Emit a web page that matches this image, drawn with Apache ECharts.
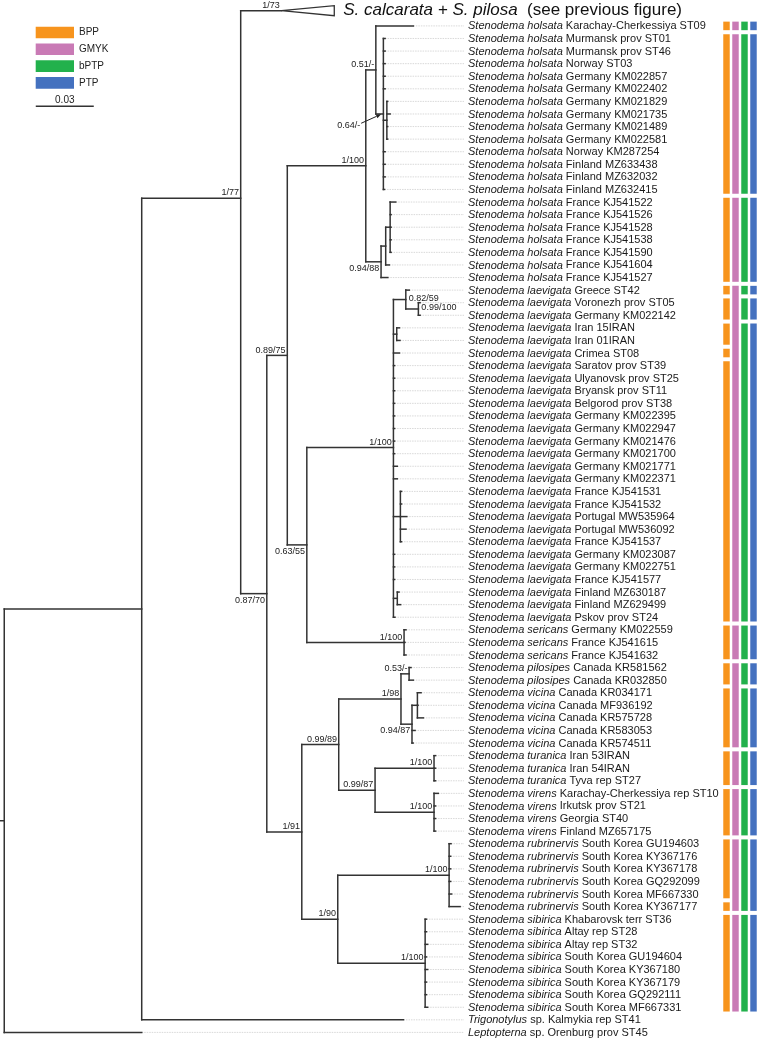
<!DOCTYPE html>
<html><head><meta charset="utf-8">
<script src="https://cdn.jsdelivr.net/npm/echarts@6/dist/echarts.min.js"></script>
<style>html,body{margin:0;padding:0;background:#fff}#c{width:758px;height:1045px}</style>
</head><body><div id="c"></div>
<script>
// ================= DATA =================
// Leaf rows (top to bottom): italic taxon part and plain locality part
const leafTaxon = [
 'Stenodema holsata','Stenodema holsata','Stenodema holsata','Stenodema holsata','Stenodema holsata','Stenodema holsata','Stenodema holsata','Stenodema holsata','Stenodema holsata','Stenodema holsata','Stenodema holsata','Stenodema holsata','Stenodema holsata','Stenodema holsata',
 'Stenodema holsata','Stenodema holsata','Stenodema holsata','Stenodema holsata','Stenodema holsata','Stenodema holsata','Stenodema holsata',
 'Stenodema laevigata','Stenodema laevigata','Stenodema laevigata','Stenodema laevigata','Stenodema laevigata','Stenodema laevigata','Stenodema laevigata','Stenodema laevigata','Stenodema laevigata','Stenodema laevigata',
 'Stenodema laevigata','Stenodema laevigata','Stenodema laevigata','Stenodema laevigata','Stenodema laevigata','Stenodema laevigata','Stenodema laevigata','Stenodema laevigata','Stenodema laevigata','Stenodema laevigata',
 'Stenodema laevigata','Stenodema laevigata','Stenodema laevigata','Stenodema laevigata','Stenodema laevigata','Stenodema laevigata','Stenodema laevigata',
 'Stenodema sericans','Stenodema sericans','Stenodema sericans',
 'Stenodema pilosipes','Stenodema pilosipes',
 'Stenodema vicina','Stenodema vicina','Stenodema vicina','Stenodema vicina','Stenodema vicina',
 'Stenodema turanica','Stenodema turanica','Stenodema turanica',
 'Stenodema virens','Stenodema virens','Stenodema virens','Stenodema virens',
 'Stenodema rubrinervis','Stenodema rubrinervis','Stenodema rubrinervis','Stenodema rubrinervis','Stenodema rubrinervis','Stenodema rubrinervis',
 'Stenodema sibirica','Stenodema sibirica','Stenodema sibirica','Stenodema sibirica','Stenodema sibirica','Stenodema sibirica','Stenodema sibirica','Stenodema sibirica',
 'Trigonotylus','Leptopterna'
];
const leafLocality = [
 'Karachay-Cherkessiya ST09','Murmansk prov ST01','Murmansk prov ST46','Norway ST03','Germany KM022857','Germany KM022402','Germany KM021829','Germany KM021735','Germany KM021489','Germany KM022581','Norway KM287254','Finland MZ633438','Finland MZ632032','Finland MZ632415',
 'France KJ541522','France KJ541526','France KJ541528','France KJ541538','France KJ541590','France KJ541604','France KJ541527',
 'Greece ST42','Voronezh prov ST05','Germany KM022142','Iran 15IRAN','Iran 01IRAN','Crimea ST08','Saratov prov ST39','Ulyanovsk prov ST25','Bryansk prov ST11','Belgorod prov ST38',
 'Germany KM022395','Germany KM022947','Germany KM021476','Germany KM021700','Germany KM021771','Germany KM022371','France KJ541531','France KJ541532','Portugal MW535964','Portugal MW536092',
 'France KJ541537','Germany KM023087','Germany KM022751','France KJ541577','Finland MZ630187','Finland MZ629499','Pskov prov ST24',
 'Germany KM022559','France KJ541615','France KJ541632',
 'Canada KR581562','Canada KR032850',
 'Canada KR034171','Canada MF936192','Canada KR575728','Canada KR583053','Canada KR574511',
 'Iran 53IRAN','Iran 54IRAN','Tyva rep ST27',
 'Karachay-Cherkessiya rep ST10','Irkutsk prov ST21','Georgia ST40','Finland MZ657175',
 'South Korea GU194603','South Korea KY367176','South Korea KY367178','South Korea GQ292099','South Korea MF667330','South Korea KY367177',
 'Khabarovsk terr ST36','Altay rep ST28','Altay rep ST32','South Korea GU194604','South Korea KY367180','South Korea KY367179','South Korea GQ292111','South Korea MF667331',
 'sp. Kalmykia rep ST41','sp. Orenburg prov ST45'
];
// parent node of each leaf
const leafParent = [
 'H','J','J','J','J','J','K','K','K','K','J','J','J','J',
 'N','N','N','N','N','M','I',
 'Q','U','U','R','R','O','O','O','O','O','O','O','O','O','O','O','S','S','S','S','S','O','O','O','T','T','O',
 'P','P','P',
 'Z','Z',
 'BB','BB','BB','AA','AA',
 'CC','CC','CC',
 'DD','DD','DD','DD',
 'EE','EE','EE','EE','EE','EE',
 'FF','FF','FF','FF','FF','FF','FF','FF',
 'A','root'
];
// distance from root (substitutions/site) of each leaf tip
const leafDepth = [
 0.2138,0.1992,0.1992,0.1992,0.1992,0.1992,0.2005,0.2018,0.2005,0.2005,0.1992,0.1992,0.1992,0.1989,
 0.2047,0.2023,0.2023,0.2023,0.2023,0.2014,0.2006,
 0.2117,0.2173,0.2173,0.2066,0.2069,0.2066,0.2041,0.2041,0.2041,0.2041,0.2041,0.2041,0.2041,0.2041,0.2055,0.2055,
 0.2077,0.2077,0.2104,0.2100,0.2077,0.2041,0.2041,0.2041,0.2064,0.2072,0.2043,
 0.2100,0.2095,0.2100,
 0.2126,0.2138,
 0.2178,0.2162,0.2190,0.2147,0.2137,
 0.2253,0.2253,0.2253,
 0.2267,0.2253,0.2253,0.2253,
 0.2333,0.2331,0.2331,0.2331,0.2336,0.2380,
 0.2206,0.2206,0.2212,0.2206,0.2212,0.2206,0.2206,0.2212,
 0.2087,0.0733
];
// internal nodes
const nodeName   = ['root','A','B','C','D','F','H','J','K','I','M','N','G','O','Q','U','R','S','T','P','E','V','X','Z','AA','BB','Y','CC','DD','W','EE','FF'];
const nodeParent = [null,'root','A','B','C','D','F','H','J','F','I','M','D','G','O','Q','O','O','O','G','C','E','V','X','X','AA','V','Y','Y','E','W','W'];
const nodeDepth  = [0.0022,0.0733,0.1245,0.1380,0.1486,0.1892,0.1944,0.1983,0.2001,0.1971,0.1995,0.2018,0.1587,0.2035,0.2099,0.2164,0.2052,0.2071,0.2055,0.2090,0.1561,0.1752,0.2074,0.2116,0.2131,0.2159,0.1940,0.2245,0.2245,0.1747,0.2323,0.2199];
const nodeSupport= ['','','1/77','0.87/70','0.89/75','1/100','0.51/-','','0.64/-','0.94/88','','','0.63/55','1/100','0.82/59','0.99/100','','','','1/100','1/91','0.99/89','1/98','0.53/-','0.94/87','','0.99/87','1/100','1/100','1/90','1/100','1/100'];
const nodeRowOverride = {B: 13.7, O: 33.5};
// collapsed clade (previous figure)
const collapsedItalic = 'S. calcarata + S. pilosa';
const collapsedNote = '(see previous figure)';
const collapsedParent = 'B';
const collapsedDepths = [0.1456, 0.1729];   // tip of branch, end of triangle
const collapsedRow = -1.21;
const collapsedSupport = '1/73';
// species delimitation groups [firstRow, lastRow]
const methods = ['BPP','GMYK','bPTP','PTP'];
const bppGroups  = [[0,0],[1,13],[14,20],[21,21],[22,23],[24,25],[26,26],[27,47],[48,50],[51,52],[53,57],[58,60],[61,64],[65,69],[70,70],[71,78]];
const gmykGroups = [[0,0],[1,13],[14,20],[21,47],[48,50],[51,57],[58,60],[61,64],[65,70],[71,78]];
const bptpGroups = [[0,0],[1,13],[14,20],[21,21],[22,23],[24,47],[48,50],[51,52],[53,57],[58,60],[61,64],[65,70],[71,78]];
const ptpGroups  = [[0,0],[1,13],[14,20],[21,21],[22,23],[24,47],[48,50],[51,52],[53,57],[58,60],[61,64],[65,70],[71,78]];
const scaleBarValue = 0.03;

// ================= STYLE / LAYOUT =================
const FONT = '"Liberation Sans", Arial, sans-serif';
const methodColors = ['#F7941D','#C97AB5','#22B14C','#4471BF'];
const lineColor = '#333333';
const guideEnd = 0.2400;
const labelPlacement = {C:'below', I:'below', G:'below', AA:'below', Q:'right', U:'right', K:'arrow'};

// ================= TREE BUILD =================
const nodes = {};
nodeName.forEach((n,i)=>{ nodes[n] = {name:n, parent:nodeParent[i], depth:nodeDepth[i], support:nodeSupport[i], children:[]}; });
const leaves = leafTaxon.map((t,i)=>({leaf:true, y:i, depth:leafDepth[i], parent:leafParent[i]}));
const collapsed = {leaf:true, y:collapsedRow, depth:collapsedDepths[0], parent:collapsedParent};
nodeName.forEach(n=>{ const nd=nodes[n]; if(nd.parent) nodes[nd.parent].children.push(nd); });
leaves.forEach(l=>nodes[l.parent].children.push(l));
nodes[collapsedParent].children.push(collapsed);
function computeY(n){
  if(n.leaf) return n.y;
  const ys = n.children.map(computeY);
  n.minY = Math.min(...ys); n.maxY = Math.max(...ys);
  n.y = (n.name in nodeRowOverride) ? nodeRowOverride[n.name] : (n.minY+n.maxY)/2;
  return n.y;
}
const root = nodes.root;
computeY(root);
const segs = [[0, root.y, root.depth, root.y]];
function addSegs(n){
  if(n.parent){ const p = nodes[n.parent]; segs.push([p.depth, n.y, n.depth, n.y]); }
  if(!n.leaf){ segs.push([n.depth, n.minY, n.depth, n.maxY]); n.children.forEach(addSegs); }
}
addSegs(root);
const guides = leaves.map(l=>[l.depth, l.y]);
const supportItems = nodeName.filter(n=>nodes[n].support).map(n=>({value:[nodes[n].depth, nodes[n].y], name:n, text:nodes[n].support}));
supportItems.push({value:[collapsedDepths[0], collapsedRow], name:'collapsed', text:collapsedSupport});

// ================= CHART =================
const chart = echarts.init(document.getElementById('c'), null, {renderer:'canvas'});
const rowHalf = 0.34;
function groupSeries(name, idx, groups){
  return {
    type:'custom', name:name, xAxisIndex:1, yAxisIndex:1,
    itemStyle:{color:methodColors[idx]},
    encode:{x:0, y:[1,2]},
    data: groups.map(g=>[name, g[0], g[1]]),
    renderItem:(params, api)=>{
      const a = api.coord([api.value(0), api.value(1)]);
      const b = api.coord([api.value(0), api.value(2)]);
      const w = api.size([1,0])[0]*0.72;
      const h = api.size([0,rowHalf])[1];
      return {type:'rect', shape:{x:a[0]-w/2, y:a[1]-h, width:w, height:b[1]-a[1]+2*h}, style:{fill:methodColors[idx]}};
    }
  };
}
const option = {
  animation:false,
  backgroundColor:'#ffffff',
  grid:[{left:0, top:0.74, width:754, height:1048.29},{left:722, top:0.74, width:37.1, height:1048.29}],
  xAxis:[{type:'value', min:0, max:0.39, show:false, gridIndex:0},
         {type:'category', data:methods, show:false, gridIndex:1}],
  yAxis:[{type:'value', min:-2, max:81, inverse:true, show:false, gridIndex:0},
         {type:'value', min:-2, max:81, inverse:true, show:false, gridIndex:1}],
  legend:{data:methods, orient:'vertical', left:35.7, top:26.7, padding:0, itemWidth:38.3, itemHeight:11.6, itemGap:5.2,
          icon:'rect', textStyle:{fontFamily:FONT, fontSize:10, color:'#222', padding:[0,0,0,0]}, selectedMode:false},
  series:[
    { // guide lines
      type:'custom', silent:true, data:guides, encode:{x:0,y:1},
      renderItem:(params, api)=>{
        const a = api.coord([api.value(0), api.value(1)]);
        const b = api.coord([guideEnd, api.value(1)]);
        return {type:'line', shape:{x1:a[0], y1:a[1], x2:b[0], y2:b[1]}, style:{stroke:'#cfcfcf', lineWidth:0.8, lineDash:[1.5,1]}};
      }
    },
    { // tree branches
      type:'custom', silent:true, data:segs, encode:{x:[0,2], y:[1,3]},
      renderItem:(params, api)=>{
        const a = api.coord([api.value(0), api.value(1)]);
        const b = api.coord([api.value(2), api.value(3)]);
        return {type:'line', shape:{x1:a[0], y1:a[1], x2:b[0], y2:b[1]}, style:{stroke:lineColor, lineWidth:1.5, lineCap:'square'}};
      }
    },
    { // leaf labels
      type:'custom', silent:true, data:leaves.map(l=>[guideEnd, l.y]), encode:{x:0,y:1},
      renderItem:(params, api)=>{
        const p = api.coord([api.value(0), api.value(1)]);
        const i = params.dataIndex;
        return {type:'text', x:p[0]+4, y:p[1]+0.5, style:{
          text:'{i|'+leafTaxon[i]+'} '+leafLocality[i],
          rich:{i:{fontStyle:'italic', fontSize:11, fontFamily:FONT, fill:'#1a1a1a'}},
          fontSize:11, fontFamily:FONT, fill:'#1a1a1a', align:'left', verticalAlign:'middle'}};
      }
    },
    { // collapsed clade triangle + title
      type:'custom', silent:true, data:[[collapsedDepths[0], collapsedDepths[1], collapsedRow]], encode:{x:[0,1], y:2},
      renderItem:(params, api)=>{
        const t = api.coord([api.value(0), api.value(2)]);
        const e1 = api.coord([api.value(1), api.value(2)-0.4]);
        const e2 = api.coord([api.value(1), api.value(2)+0.4]);
        const e = api.coord([api.value(1), api.value(2)]);
        return {type:'group', children:[
          {type:'polygon', shape:{points:[t,e1,e2]}, style:{fill:'#fff', stroke:lineColor, lineWidth:1.3}},
          {type:'text', x:e[0]+9, y:e[1]-0.5, style:{
            text:'{i|'+collapsedItalic+'}  '+collapsedNote,
            rich:{i:{fontStyle:'italic', fontSize:17, fontFamily:FONT, fill:'#111'}},
            fontSize:17, fontFamily:FONT, fill:'#111', align:'left', verticalAlign:'middle'}}
        ]};
      }
    },
    { // support values
      type:'custom', silent:true, data:supportItems, encode:{x:0,y:1},
      renderItem:(params, api)=>{
        const p = api.coord([api.value(0), api.value(1)]);
        const it = supportItems[params.dataIndex];
        const pl = labelPlacement[it.name] || 'above';
        const base = {fontSize:9, fontFamily:FONT, fill:'#222', text:it.text};
        if(pl==='above') return {type:'text', x:p[0]-1.7, y:p[1]-0.8, style:Object.assign(base,{align:'right', verticalAlign:'bottom'})};
        if(pl==='below') return {type:'text', x:p[0]-1.7, y:p[1]+2.3, style:Object.assign(base,{align:'right', verticalAlign:'top'})};
        if(pl==='right') return {type:'text', x:p[0]+3, y:p[1]-1, style:Object.assign(base,{align:'left', verticalAlign:'middle'})};
        // arrow label
        const tip = [p[0]-5.7, p[1]-6], st = [p[0]-25.7, p[1]+3];
        const dx = tip[0]-st[0], dy = tip[1]-st[1], L = Math.sqrt(dx*dx+dy*dy), ux = dx/L, uy = dy/L;
        const hb = [tip[0]-ux*5, tip[1]-uy*5];
        return {type:'group', children:[
          {type:'line', shape:{x1:st[0], y1:st[1], x2:hb[0], y2:hb[1]}, style:{stroke:'#222', lineWidth:1}},
          {type:'polygon', shape:{points:[tip,[hb[0]-uy*2,hb[1]+ux*2],[hb[0]+uy*2,hb[1]-ux*2]]}, style:{fill:'#222'}},
          {type:'text', x:st[0]-1, y:st[1]+2.7, style:Object.assign(base,{align:'right', verticalAlign:'middle'})}
        ]};
      }
    },
    { // scale bar
      type:'custom', silent:true, data:[[0.0185, 6.39, scaleBarValue]], encode:{x:0,y:1},
      renderItem:(params, api)=>{
        const a = api.coord([api.value(0), api.value(1)]);
        const b = api.coord([api.value(0)+api.value(2), api.value(1)]);
        return {type:'group', children:[
          {type:'line', shape:{x1:a[0], y1:a[1], x2:b[0], y2:b[1]}, style:{stroke:lineColor, lineWidth:1.5}},
          {type:'text', x:(a[0]+b[0])/2, y:a[1]-1.5, style:{text:String(scaleBarValue), fontSize:10, fontFamily:FONT, fill:'#222', align:'center', verticalAlign:'bottom'}}
        ]};
      }
    },
    groupSeries('BPP',0,bppGroups),
    groupSeries('GMYK',1,gmykGroups),
    groupSeries('bPTP',2,bptpGroups),
    groupSeries('PTP',3,ptpGroups)
  ]
};
chart.setOption(option);
</script>
</body></html>
